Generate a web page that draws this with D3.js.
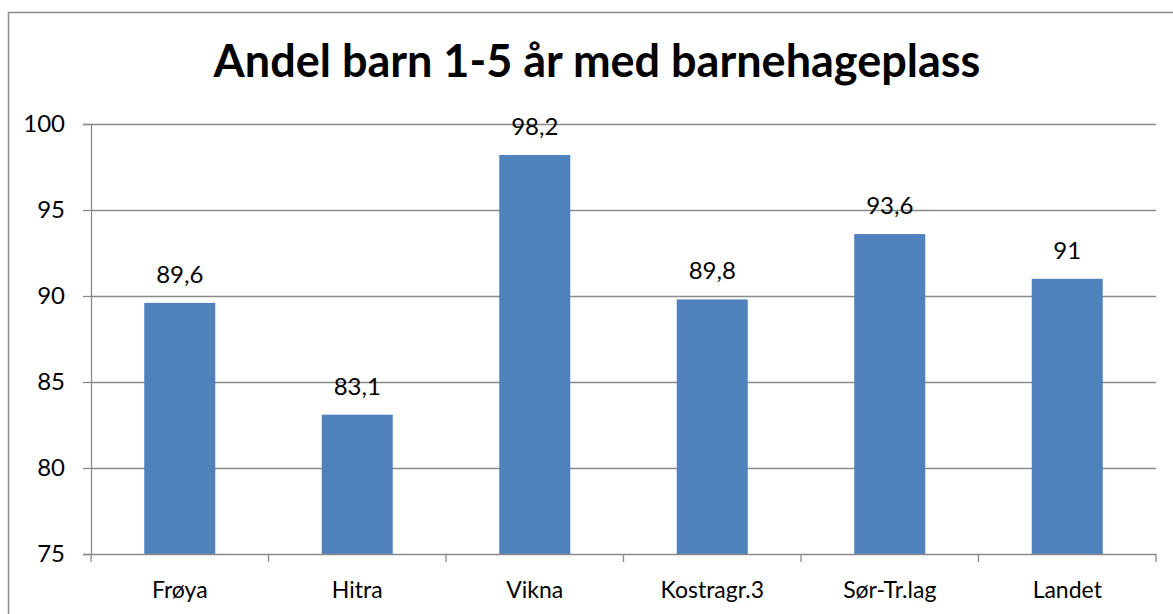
<!DOCTYPE html>
<html>
<head>
<meta charset="utf-8">
<script src="https://cdn.jsdelivr.net/npm/d3@7"></script>
<style>
  body { margin: 0; background: #fff; }
  svg { display: block; font-family: Lato, "Open Sans", sans-serif; }
</style>
</head>
<body>
<div id="chart"></div>
<script>
const categories = ['Frøya', 'Hitra', 'Vikna', 'Kostragr.3', 'Sør-Tr.lag', 'Landet'];
const values = [89.6, 83.1, 98.2, 89.8, 93.6, 91];
const yTicks = [75, 80, 85, 90, 95, 100];
const title = 'Andel barn 1-5 år med barnehageplass';

const width = 1173, height = 614;
const margin = { top: 124, right: 17, bottom: 60, left: 91 };

const svg = d3.select('#chart').append('svg')
  .attr('width', width)
  .attr('height', height);

// outer chart border (runs off the right and bottom)
svg.append('path')
  .attr('d', `M8.5,${height + 5} L8.5,12.5 L${width + 5},12.5`)
  .attr('fill', 'none')
  .attr('stroke', '#8c8c8c')
  .attr('stroke-width', 1.5);

const x = d3.scaleBand()
  .domain(categories)
  .range([margin.left, width - margin.right])
  .paddingInner(0.6)
  .paddingOuter(0.3);

const band = d3.scaleBand()
  .domain(categories)
  .range([margin.left, width - margin.right]);

const y = d3.scaleLinear()
  .domain([75, 100])
  .range([height - margin.bottom, margin.top]);

// gridlines
svg.append('g')
  .selectAll('line')
  .data(yTicks.slice(1))
  .join('line')
  .attr('x1', margin.left)
  .attr('x2', width - margin.right)
  .attr('y1', d => Math.round(y(d)) + 0.5)
  .attr('y2', d => Math.round(y(d)) + 0.5)
  .attr('stroke', '#8a8a8a')
  .attr('stroke-width', 1.3);

// bars
svg.append('g')
  .selectAll('rect')
  .data(values)
  .join('rect')
  .attr('x', (d, i) => x(categories[i]))
  .attr('width', x.bandwidth())
  .attr('y', d => y(d))
  .attr('height', d => y(75) - y(d))
  .attr('fill', '#4f81bd');

// value labels
svg.append('g')
  .selectAll('text')
  .data(values)
  .join('text')
  .attr('x', (d, i) => x(categories[i]) + x.bandwidth() / 2)
  .attr('y', d => y(d) - 20)
  .attr('text-anchor', 'middle')
  .style('font-size', '24px')
  .attr('fill', '#000')
  .text(d => String(d).replace('.', ','));

// y axis
const yAxis = svg.append('g')
  .attr('transform', `translate(${margin.left},0)`)
  .call(d3.axisLeft(y).tickValues(yTicks).tickSize(8).tickPadding(18));
yAxis.select('.domain').attr('stroke', '#8a8a8a').attr('stroke-width', 1.3);
yAxis.selectAll('.tick line').attr('stroke', '#8a8a8a').attr('stroke-width', 1.3);
yAxis.selectAll('.tick text')
  .style('font-size', '24px')
  .style('font-family', 'Lato, "Open Sans", sans-serif')
  .attr('fill', '#000');

// x axis
const xAxis = svg.append('g')
  .attr('transform', `translate(0,${y(75)})`)
  .call(d3.axisBottom(band).tickSize(0).tickPadding(28));
xAxis.select('.domain').attr('stroke', '#8a8a8a').attr('stroke-width', 1.3);
xAxis.selectAll('.tick text')
  .style('font-size', '23px')
  .style('font-family', 'Lato, "Open Sans", sans-serif')
  .attr('fill', '#000');

// category boundary tick marks
const bounds = d3.range(categories.length + 1).map(i => margin.left + i * band.step());
svg.append('g')
  .selectAll('line')
  .data(bounds)
  .join('line')
  .attr('x1', d => d)
  .attr('x2', d => d)
  .attr('y1', y(75))
  .attr('y2', y(75) + 8)
  .attr('stroke', '#8a8a8a')
  .attr('stroke-width', 1.3);

// title
svg.append('text')
  .attr('x', 597)
  .attr('y', 77)
  .attr('text-anchor', 'middle')
  .style('font-size', '45px')
  .style('font-weight', 'bold')
  .attr('fill', '#000')
  .text(title);
</script>
</body>
</html>
